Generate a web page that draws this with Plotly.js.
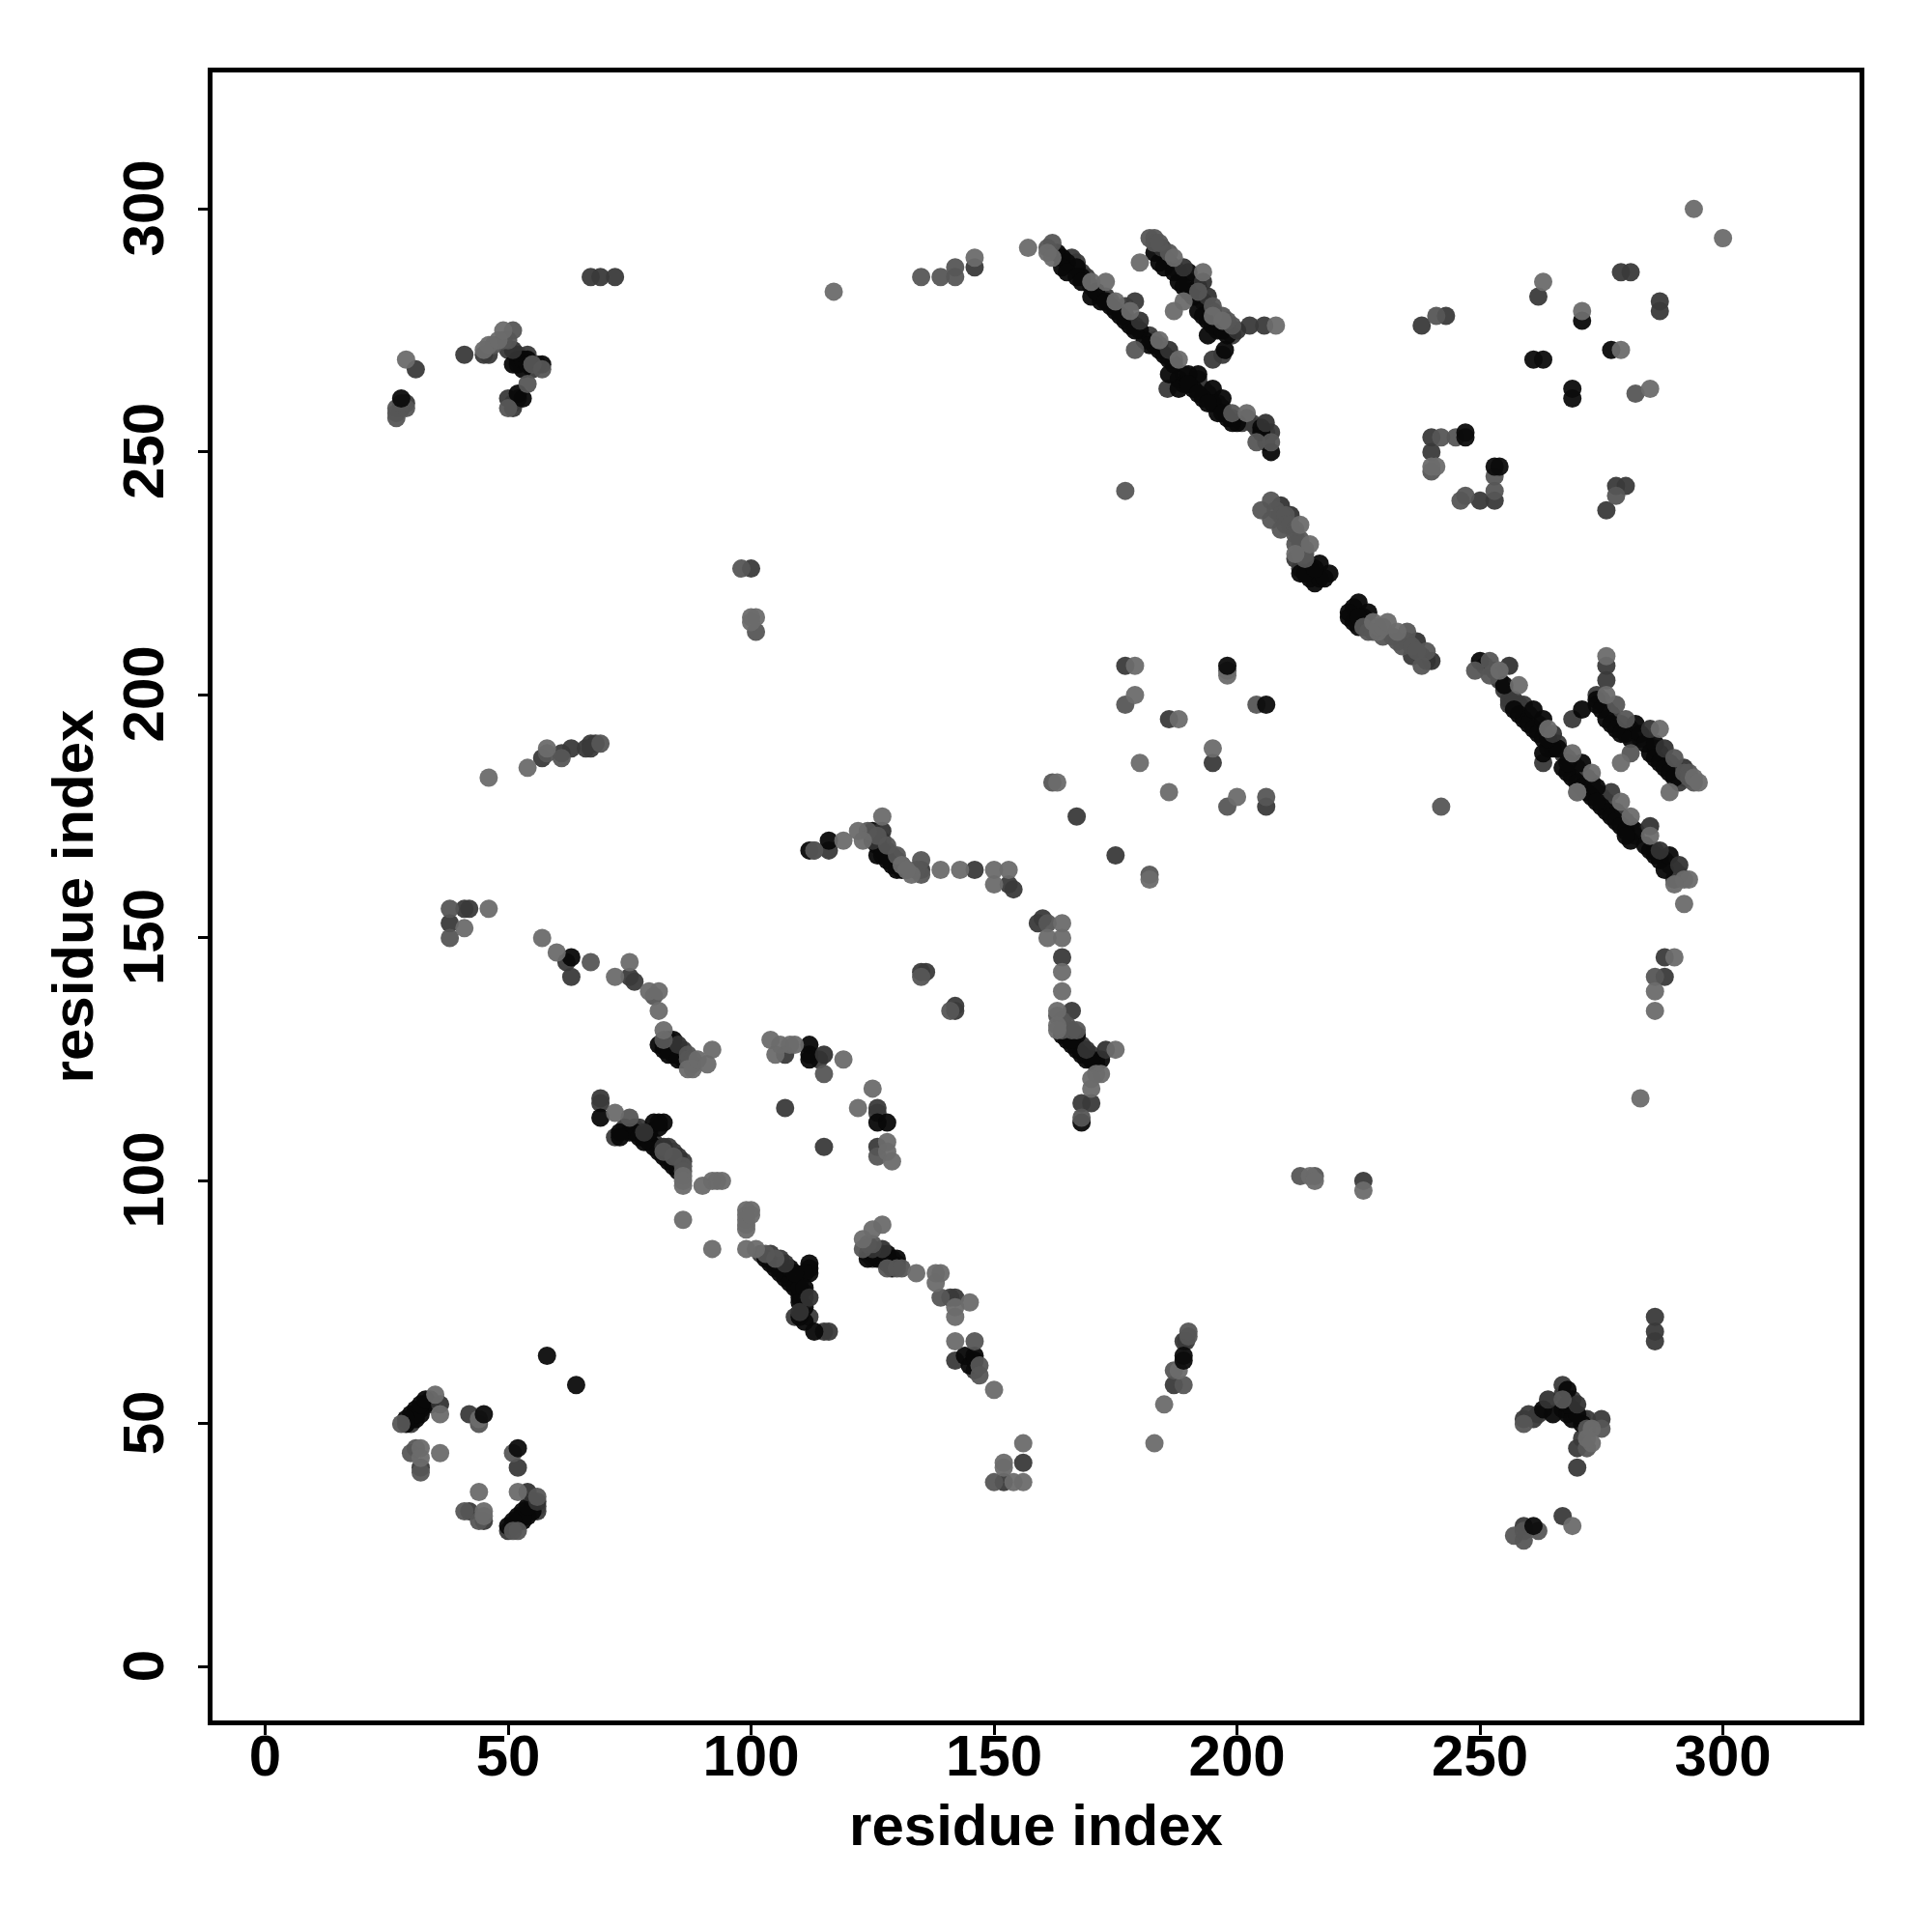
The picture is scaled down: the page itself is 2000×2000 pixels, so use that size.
<!DOCTYPE html>
<html><head><meta charset="utf-8">
<script src="https://cdn.plot.ly/plotly-3.0.1.min.js"></script>
<style>html,body{margin:0;padding:0;background:#fff}</style></head>
<body><div id="chart" style="width:2000px;height:2000px"></div>
<script>
const axisTitle = "residue index";
const tickValues = [0,50,100,150,200,250,300];
const blackPoints = [
[29,50],[30,51],[30,52],[31,53],[32,53],[33,54],[31,51],[32,52],[31,52],[32,54],[33,55],[29,51],[50,29],[51,29],[52,30],[53,30],[52,31],[53,32],[54,31],[55,32],[53,31],[51,30],[54,33],
[69,113],[73,110],[75,110],[76,110],[77,109],[78,108],[79,108],[80,107],[81,106],[82,105],[83,104],[84,103],[85,102],[80,112],[82,112],[81,111],[73,109],[79,110],[81,112],
[103,84],[104,83],[105,82],[106,81],[107,80],[108,79],[109,78],[110,77],[110,76],[111,74],[112,83],[112,81],[112,82],[111,81],[110,78],[108,82],[109,81],[110,72],[111,71],[113,69],[110,75],[111,78],
[125,85],[126,84],[127,84],[128,83],[129,83],[129,82],[128,85],[130,84],[124,84],[145,62],[146,63],[144,64],[146,64],
[63,146],[81,128],[83,127],[84,129],[84,126],[86,125],[82,127],[85,126],[82,128],[83,126],[85,125],[112,128],[112,126],[112,125],[126,112],[128,112],
[112,168],[116,170],[125,172],[127,168],[126,167],[128,166],[129,165],[130,164],[131,164],[126,169],[127,167],[126,170],[125,171],
[165,129],[166,128],[167,127],[168,126],[172,125],[171,124],[168,112],[167,130],[169,125],[164,130],[166,129],[170,125],
[163,291],[164,290],[165,289],[167,288],[168,286],[164,288],[165,287],[167,286],[168,285],[170,282],[172,281],[174,280],[175,279],[177,277],[178,276],[180,275],[181,273],[183,272],[185,270],[186,269],[187,268],[188,265],[189,264],[191,263],[193,261],[195,260],[196,258],[198,257],[200,256],[188,263],[186,266],[190,266],[195,263],[197,261],[207,250],[205,255],[192,266],[171,283],[173,281],[176,278],[179,275],[182,272],[184,271],[190,264],[192,262],[194,260],[197,258],[199,256],
[183,291],[184,289],[185,288],[187,287],[188,285],[190,283],[191,282],[190,287],[192,284],[193,278],[194,277],[195,276],[196,275],[198,274],[197.5,271],[194,274],[189,284],[192,279],[197,275],
[205,254],[52,269],[52,268],[53,267],[57,268],[53,261],[52,262],[54,269],[51,268],[53,269],[54,268],
[213,225],[215,224],[216,223],[217,224],[217,227],[219,225],[218,224],[214,225],[216,226],
[225,219],[224,218],[223,216],[225,214],[227,217],[224,215],[226,216],[223,217],[225,216],
[250,207],[255,202],[258,196],[259,195],[260,194],[261,193],[262,192],[263,191],[264,189],[265,189],[263,188],[266,189],[261,197],[263,195],[267,185],[268,184],[269,183],[270,182],[271,181],[272,180],[273,179],[274,181],[275,177],[276,176],[277,175],[278,174],[279,173],[280,172],[281,170],[282,172],[285,168],[286,167],[287,166],[288,164],[289,167],[271,186],[257,197],[264,191],[268,186],[274,178],[280,171],[284,169],
[271,197],[274,199],[274,198],[275,197],[276,195],[277,194],[278,193],[279,192],[280,192],[281,191],[282,194],[283,192],[284,190],[285,188],[286,190],[286,187],[287,186],[288,185],[289,184],[290,183],
[267,53],[268,57],[263,53],[265,52],[268,52],[269,53],[269,51],[271,50],[270,52],[268,54],[271,277],[277,271]
];
const darkPoints = [
[42,52],[52,41],[32,41],[56,33],[42,32],[45,30],[34,55],[34,54],[30,50],[55,33],[55,34],[56,32],[50,28],
[69,117],[69,116],[72,109],[83,107],[84,106],[86,104],[74,111],[76,111],[77,111],[78,109],[79,109],[80,108],[81,107],[83,105],[84,104],[85,103],
[102,85],[106,84],[109,72],[115,69],[116,69],[104,85],[105,83],[106,82],[107,81],[108,81],[109,80],[110,79],[111,77],[111,76],[112,72],
[124,85],[125,84],[126,85],[127,85],[128,84],[129,84],[130,83],[141,76],[142,76],[142,63],[146,61],[156,42],[152,38],
[62,145],[63,142],[75,142],[76,141],[86,127],[83,129],[84,128],[86,126],[107,126],[114,125],[107,115],[115,107],[126,115],[126,114],[126,107],
[113,168],[116,168],[127,170],[128,168],[129,167],[130,166],[131,165],[132,164],[135,164],[146,164],[153,161],[154,160],[160,154],[159,153],[164,146],[166,135],[170,125],[168,116],[170,116],[165,130],[167,129],[168,128],[170,126],[171,125],
[135,143],[136,143],[142,136],[142,135],
[38,153],[41,156],[42,156],[57,187],[61,188],[63,189],[67,190],[68,190],[66,189],[67,189],[100,226],
[31,267],[41,270],[45,270],[46,270],[54,270],[51,259],[50,261],[51,260],[52,261],[29,260],[28,259],[50,271],[56,268],[55,267],[52,270],
[67,286],[69,286],[72,286],[146,288],
[179,281],[185.7,263],[195,269],[197,270],[192,265],[202.6,276],[205.6,276],[177,280],[172,282],[168,287],
[166,290],[167,289],[169,286],[170,284],[171,283],[173,282],[174,281],[176,279],[177,278],[179,276],[182,274],[183,273],[184,272],[187,269],[189,266],[190,265],[192,264],[193,263],[194,262],[196,260],[197,259],[199,257],[201,256],[202,257],[203,256],[204,255],[206,254],[207,254],[206,252],
[185,290],[186,289],[187,288],[188,287],[190,285],[191,284],[192,282],[193,281],[195,279],[196,277],[197,276],[198,275],[199,274],
[213,226],[212,228],[214,227],[215,226],[236,208],[238,208],[239,207],
[256,198],[258,198],[256,199],[263,186],[267,188],[277,180],[290,162],[259,198],
[251,206],[253,205],[254,203],[255,201],[257,199],[259,197],[260,196],[261,195],[262,194],[263,193],[266,190],[268,187],[269,186],[270,185],[272,183],[273,182],[274,180],[275,179],[276,178],[278,176],[279,175],[280,174],[281,173],[282,171],[286,168],[288,166],[289,165],[290,164],[291,163],
[276,206],[276,203],[274,200],[269,195],[291,182],[275,199],[276,197],[277,196],[279,194],[281,193],[283,191],[284,191],[286,189],[287,188],[289,186],[290,185],[291,184],[292,183],
[288,146],[288,142],[286,72],[286,69],[286,67],
[177,206],[186,195],[195,186],[206,177],[167,175],[175,167],
[238,276],[243,278],[262,282],[279,287],[281,287],[287,281],[287,279],[240,253],[240,250],[250,240],[253,240],[278,243],[280,243],[276,238],[226,100],
[267,58],[259,51],[261,51],[272,51],[275,51],[270,45],[270,41],[267,31],[259,29],[260,52],[262,52],[269,55],[271,51],[267,56],[268,55],[271,47],
[187,58],[189,67],[189.5,67]
];
const darkOverlayPoints = [
[184.6,292],[189,288],[193,285],[194,282],[180,277],[186,271],[200,275],[205.9,256],[265,192],[285,173],[287,168],[291,165],[285,193],[288,189],[292,185],[256,206],[209,239],[211,237],[237,211],[240,207],[85,128],[115,126],[78,110],[82,107],[85,105],[107,83],[127,86],[125,86],[270,54],[36,54],[264,55],[56,34],[54,36],[51,271],[169,127],[173,127],[127,172],[125,170],[110,73],[112,76]
];
const midPoints = [
[28,50],[32,40],[51,44],[44,50],[41,32],[44,30],[56,35],[51,28],[52,28],[30,44],[31,45],
[75,113],[86,103],[82,106],[84,105],[86,102],[105,84],[103,85],[123,86],[124,87],[125,87],[128,82],[130,82],[131,82],[139,76],[146,67],[147,62],[147,60],[150,38],
[67,145],[80,138],[82,129],[87,125],[88,124],[87,126],[88,125],[115,122],[126,105],
[113,168],[124,172],[126,171],[128,169],[130,167],[134,164],[135,163],[135,166],[161,153],[163,134],[166,131],[168,113],[164,133],[164,131],[165,132],[167,131],
[38,156],[38,150],[58,188],[61,187],[69,190],[98,226],[101,213],
[135,142],[141,135],[135,286],[139,286],[142,288],[142,286],
[27,258],[27,259],[27,257],[29,259],[50,259],[50,273],[51,275],[55,268],[57,267],[54,264],[28,260],[49,273],[47,272],
[161,292],[162,293],[182,294],[183,293],[195,280],[197,278],[199,276],[199,258],[207,252],[204,252],[179,271],
[183,294],[184,293],[186,291],[192,283],[198,277],
[207,240],[205,238],[207,236],[209,234],[208,238],[209,237],[210,237],[210,235],[211,235],[212,234],[212,233],[213,232],[213,231],[214,230],[214,229],[212,231],[213,229],[214,228],
[234,210],[235,213],[239,209],[238,206],[226,214],[227,213],[228,213],[230,212],[232,212],[233,211],[235,211],[236,210],[237,209],
[249,205],[252,204],[252,207],[270,180],[278,198],[280,195],[281,188],[290,187],[293,184],[292,184],[293,183],[294,182],
[286,142],[177,198],[162,182],[204,198],[198,205],[198,177],[206,179],[182,163],[177,242],[242,177],
[241,278],[282,262],[240,246],[242,253],[245,253],[246,240],[247,241],[253,242],[253,245],[278,241],
[213,101],[216,101],[267,55],[259,50],[275,49],[272,45],[257,27],[259,26],[259,28],[262,28],[187,61],[189,58],[190,68],[190,69],[272,49]
];
const lightPoints = [
[35,56],[36,52],[44,51],[32,45],[32,43],[36,44],[44,36],[52,36],[45,32],[45,31],
[72,114],[86,101],[86,100],[86,99],[90,99],[92,100],[93,100],[94,100],[86,92],[92,86],
[99,94],[99,93],[99,92],[99,91],[99,90],[100,94],[100,93],[99,86],[101,86],[127,91],[125,90],[123,88],
[134,81],[138,81],[139,81],[138,79],[142,74],[142,72],[145,75],[142,67],[150,57],[152,42],[152,41],[154,38],[156,38],[156,46],
[57,150],[60,147],[72,142],[75,145],[79,139],[81,139],[81,135],[82,131],[88,123],[87,123],[89,125],[92,127],[91,124],
[104,129],[105,126],[106,128],[108,128],[109,128],[119,125],[122,115],[125,119],[128,108],[128,106],[129,104],
[119,170],[122,172],[123,170],[127,175],[131,165],[133,163],[132,164],[139,164],[143,164],[150,164],[153,164],[150,161],
[164,153],[161,150],[164,150],[164,143],[164,139],[163,135],[163,132],[163,131],[175,127],[171,122],[172,122],[170,119],[170,121],
[41,152],[46,156],[46,183],[54,185],[58,189],[100,216],[101,216],[100,215],[29,269],[46,272],[45,271],[48,273],[49,275],
[117,283],[146,290],[157,292],[161,291],[162,290],
[170,285],[173,285],[175,281],[178,279],[184,273],[188,269],[180,289],[187,290],[193,287],[189,281],[187,279],[208,276],[202,258],[195,278],[197,277],
[213,235],[215,231],[212,229],[228,215],[229,213],[229,214],[230,214],[231,215],[233,213],[254,205],[258,202],[264,193],[269,188],[273,184],[279,178],[281,175],[270,180],[285,171],[292,162],[293,162],[290,161],[292,157],
[276,208],[276,200],[287,193],[279,186],[294,183],[295,182],[289,180],
[290,146],[286,139],[286,135],[283,117],[294,300],[300,294],
[179,206],[179,200],[180,186],[188,195],[186,180],[195,189],[200,179],[163,182],[182,162],[198,204],
[263,285],[271,279],[279,271],[285,263],[241,247],[240,247],[226,98],[215,101],[216,100],
[273,49],[273,46],[272,47],[269,29],[183,46],[185,54],[188,61]
];
const topBlackPoints = [
[58,64],[64,58],[45,52],[52,45],[28,261],[198,206],[206,198],[247,254],[247,253],[253,247],[254,247],[261,269],[263,269],[269,263],[269,261],[261,29],[189,64],[189,63]
];
const pointGroups = [
  {points: darkPoints, color: "#3a3a3a"},
  {points: blackPoints, color: "#080808"},
  {points: darkOverlayPoints, color: "#333333"},
  {points: midPoints, color: "#565656"},
  {points: lightPoints, color: "#6c6c6c"},
  {points: topBlackPoints, color: "#0c0c0c"}
];
const traces = pointGroups.map(g => ({
  type: "scatter", mode: "markers",
  x: g.points.map(p => p[0]), y: g.points.map(p => p[1]),
  marker: {size: 19, color: g.color, opacity: 0.95, line: {width: 0}},
  showlegend: false
}));
const font = {family: "Liberation Sans, Arial, sans-serif", size: 60, color: "#000"};
const boldFont = Object.assign({}, font, {weight: "bold"});
const axisBase = {
  tickmode: "array", tickvals: tickValues, ticktext: tickValues.map(String),
  ticks: "outside", ticklen: 10, tickwidth: 3, tickcolor: "#000",
  showline: true, mirror: true, linewidth: 5, linecolor: "#000",
  showgrid: false, zeroline: false, tickfont: boldFont
};
const layout = {
  width: 2000, height: 2000, autosize: false, paper_bgcolor: "#fff", plot_bgcolor: "#fff",
  margin: {l: 219.5, r: 74.5, t: 74.5, b: 218.5},
  xaxis: Object.assign({}, axisBase, {range: [-10.83, 328.1], ticklabelstandoff: -30,
    title: {text: "<b>" + axisTitle + "</b>", font: font, standoff: 19}}),
  yaxis: Object.assign({}, axisBase, {range: [-11.03, 328.1], tickangle: -90, ticklabelstandoff: 12, ticklabelshift: 8,
    title: {text: "<b>" + axisTitle + "</b>", font: font, standoff: 1}}),
  font: font
};
Plotly.newPlot("chart", traces, layout, {displayModeBar: false, staticPlot: true});
</script></body></html>
